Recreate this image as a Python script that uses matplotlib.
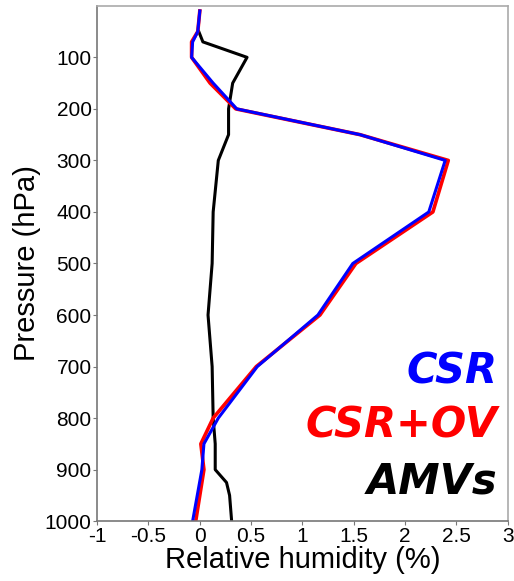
import numpy as np
import matplotlib.pyplot as plt

plt.rcParams['font.family'] = ['Liberation Sans', 'DejaVu Sans']

pressure = [10, 50, 70, 100, 150, 200, 250, 300, 400, 500, 600, 700, 800, 850, 900, 1000]
csr = [0.0, -0.02, -0.07, -0.08, 0.13, 0.36, 1.56, 2.39, 2.23, 1.49, 1.15, 0.56, 0.18, 0.04, 0.02, -0.07]
csr_ov = [0.0, -0.02, -0.08, -0.08, 0.10, 0.35, 1.56, 2.42, 2.27, 1.52, 1.17, 0.55, 0.13, 0.01, 0.04, -0.04]

amv_pressure = [50, 70, 100, 150, 200, 250, 300, 400, 500, 600, 700, 800, 850, 900, 925, 950, 1000]
amv = [-0.01, 0.03, 0.46, 0.32, 0.28, 0.28, 0.18, 0.13, 0.12, 0.08, 0.12, 0.13, 0.15, 0.15, 0.26, 0.29, 0.31]

xticks = [-1, -0.5, 0, 0.5, 1, 1.5, 2, 2.5, 3]
xlabels = ["-1", "-0.5", "0", "0.5", "1", "1.5", "2", "2.5", "3"]
yticks = [100, 200, 300, 400, 500, 600, 700, 800, 900, 1000]


def main():
    fig = plt.figure(figsize=(5.14, 5.81), dpi=100)
    ax = fig.add_axes([0.189, 0.103, 0.799, 0.887])

    ax.plot(amv, amv_pressure, color="black", lw=2.2)
    ax.plot(csr_ov, pressure, color="red", lw=2.6)
    ax.plot(csr, pressure, color="blue", lw=2.2)

    ax.set_xlim(-1, 3)
    ax.set_ylim(1000, 0)
    ax.set_xticks(xticks)
    ax.set_xticklabels(xlabels)
    ax.set_yticks(yticks)
    ax.tick_params(labelsize=15, length=3, color="#777777", pad=1)

    for s in ["left", "bottom"]:
        ax.spines[s].set_color("#777777")
    for s in ["top", "right"]:
        ax.spines[s].set_color("#aaaaaa")
    for s in ax.spines.values():
        s.set_linewidth(1.2)

    ax.set_xlabel("Relative humidity (%)", fontsize=21, labelpad=0)
    ax.set_ylabel("Pressure (hPa)", fontsize=21, labelpad=3)

    kw = dict(transform=ax.transAxes, ha="right", va="center", fontsize=30,
              fontweight="bold", fontstyle="italic", family="DejaVu Sans")
    ax.text(0.975, 0.29, "CSR", color="blue", **kw)
    ax.text(0.975, 0.185, "CSR+OV", color="red", **kw)
    ax.text(0.975, 0.076, "AMVs", color="black", **kw)

    fig.savefig("out.png", dpi=100)


if __name__ == "__main__":
    main()
